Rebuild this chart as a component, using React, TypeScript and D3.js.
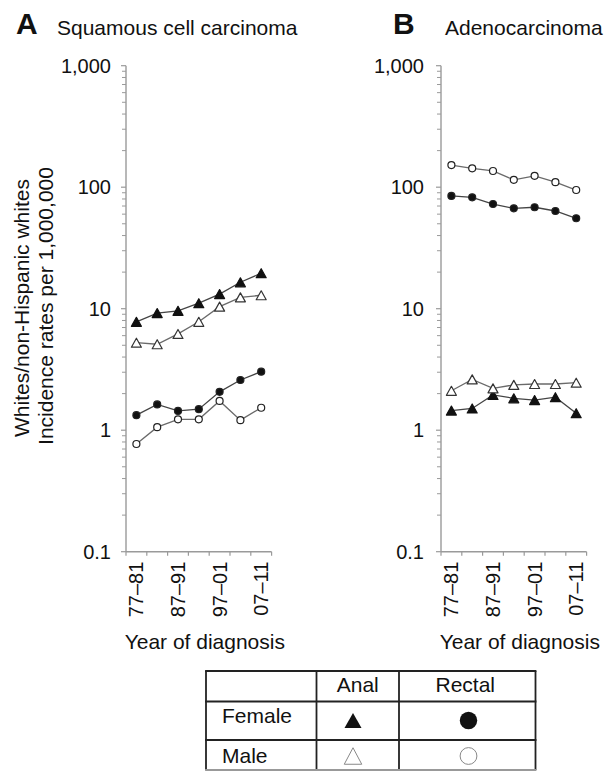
import React, { useEffect, useRef } from 'react';
import * as d3 from 'd3';

// periods of diagnosis (7 five-year bands)
const periods = ['77–81', '82–86', '87–91', '92–96', '97–01', '02–06', '07–11'];
const yTicks = [0.1, 1, 10, 100, 1000];
const yTickLabels = ['0.1', '1', '10', '100', '1,000'];

// A: squamous cell carcinoma
const sccFemaleAnal = [7.8, 9.2, 9.6, 11.1, 13.2, 16.5, 19.6];
const sccMaleAnal = [5.25, 5.1, 6.2, 7.8, 10.4, 12.4, 12.9];
const sccFemaleRectal = [1.33, 1.63, 1.44, 1.49, 2.07, 2.59, 3.03];
const sccMaleRectal = [0.77, 1.06, 1.23, 1.23, 1.74, 1.21, 1.53];

// B: adenocarcinoma
const adenoFemaleAnal = [1.45, 1.51, 1.95, 1.83, 1.77, 1.87, 1.38];
const adenoMaleAnal = [2.11, 2.62, 2.21, 2.36, 2.4, 2.4, 2.46];
const adenoFemaleRectal = [84.7, 82.6, 72.7, 67.0, 68.4, 63.7, 55.5];
const adenoMaleRectal = [152, 143, 136, 115, 124, 110, 94.8];

const legendRows = ['Female', 'Male'];
const legendCols = ['Anal', 'Rectal'];

const FONT = "'Liberation Sans', Arial, Helvetica, sans-serif";
const W = 605;
const H = 771;

type Kind = 'tri' | 'circle';

const triPath = (cx: number, cy: number, w: number, h: number) =>
  `M${cx},${cy - h / 2}L${cx + w / 2},${cy + h / 2}L${cx - w / 2},${cy + h / 2}Z`;

export default function App() {
  const svgRef = useRef<SVGSVGElement>(null);

  useEffect(() => {
    if (!svgRef.current) return;
    const svg = d3.select(svgRef.current);
    svg.selectAll('*').remove();

    svg.append('rect').attr('width', W).attr('height', H).attr('fill', '#fff');

    const y = d3.scaleLog().domain([0.1, 1000]).range([551.7, 65.7]);
    const axisColor = '#9a9a9a';

    const panels = [
      {
        letter: 'A', title: 'Squamous cell carcinoma', x0: 126, letterX: 16, titleX: 57, labelGap: 15,
        series: [
          { values: sccFemaleRectal, kind: 'circle' as Kind, filled: true },
          { values: sccMaleRectal, kind: 'circle' as Kind, filled: false },
          { values: sccMaleAnal, kind: 'tri' as Kind, filled: false },
          { values: sccFemaleAnal, kind: 'tri' as Kind, filled: true },
        ],
      },
      {
        letter: 'B', title: 'Adenocarcinoma', x0: 441, letterX: 393, titleX: 445, labelGap: 17,
        series: [
          { values: adenoFemaleRectal, kind: 'circle' as Kind, filled: true },
          { values: adenoMaleRectal, kind: 'circle' as Kind, filled: false },
          { values: adenoFemaleAnal, kind: 'tri' as Kind, filled: true },
          { values: adenoMaleAnal, kind: 'tri' as Kind, filled: false },
        ],
      },
    ];

    panels.forEach(p => {
      const x = d3.scaleBand<string>().domain(periods).range([p.x0, p.x0 + 145.6]).padding(0);
      const g = svg.append('g');

      // panel title
      g.append('text')
        .attr('x', p.letterX).attr('y', 34)
        .attr('font-family', FONT).attr('font-size', 30).attr('font-weight', 700)
        .attr('fill', '#111').text(p.letter);
      g.append('text')
        .attr('x', p.titleX).attr('y', 35)
        .attr('font-family', FONT).attr('font-size', 21)
        .attr('fill', '#111').text(p.title);

      // y axis with log minor ticks
      const [x0] = x.range();
      g.append('line')
        .attr('x1', x0).attr('x2', x0)
        .attr('y1', y(1000)).attr('y2', y(0.1))
        .attr('stroke', axisColor).attr('stroke-width', 1.4);
      const minor: number[] = [];
      [0.1, 1, 10, 100].forEach(d => {
        for (let k = 2; k <= 9; k++) minor.push(d * k);
      });
      g.selectAll('.minor').data(minor).enter().append('line')
        .attr('x1', x0 - 4).attr('x2', x0)
        .attr('y1', d => y(d)).attr('y2', d => y(d))
        .attr('stroke', axisColor).attr('stroke-width', 1);
      g.selectAll('.major').data(yTicks).enter().append('line')
        .attr('x1', x0 - 5).attr('x2', x0)
        .attr('y1', d => y(d)).attr('y2', d => y(d))
        .attr('stroke', axisColor).attr('stroke-width', 1.2);
      g.selectAll('.ylab').data(yTicks).enter().append('text')
        .attr('x', x0 - p.labelGap).attr('y', d => y(d) + 7)
        .attr('text-anchor', 'end')
        .attr('font-family', FONT).attr('font-size', 20).attr('fill', '#111')
        .text((d, i) => yTickLabels[i]);

      // x axis with band boundary ticks
      const xEnd = x0 + 145.6;
      const y0 = y(0.1);
      g.append('line')
        .attr('x1', x0).attr('x2', xEnd)
        .attr('y1', y0).attr('y2', y0)
        .attr('stroke', axisColor).attr('stroke-width', 1.4);
      const bounds = periods.map(d => x(d) as number).concat([xEnd]);
      g.selectAll('.xtick').data(bounds).enter().append('line')
        .attr('x1', d => d).attr('x2', d => d)
        .attr('y1', y0).attr('y2', y0 + 4)
        .attr('stroke', axisColor).attr('stroke-width', 1.2);
      const cx = (d: string) => (x(d) as number) + x.bandwidth() / 2;
      g.selectAll('.xlab').data(periods.filter((d, i) => i % 2 === 0)).enter().append('text')
        .attr('transform', d => `translate(${cx(d) + 7},${y0 + 10}) rotate(-90)`)
        .attr('text-anchor', 'end')
        .attr('font-family', FONT).attr('font-size', 20).attr('fill', '#111')
        .text(d => d);
      g.append('text')
        .attr('x', (x0 + xEnd) / 2 + 6).attr('y', 649)
        .attr('text-anchor', 'middle')
        .attr('font-family', FONT).attr('font-size', 21).attr('fill', '#111')
        .text('Year of diagnosis');

      // series
      p.series.forEach(s => {
        const pts = s.values.map((v, i) => ({ px: cx(periods[i]), py: y(v) }));
        const line = d3.line<{ px: number; py: number }>().x(d => d.px).y(d => d.py);
        g.append('path')
          .datum(pts)
          .attr('fill', 'none')
          .attr('stroke', s.filled ? '#444' : '#6a6a6a')
          .attr('stroke-width', 1.3)
          .attr('d', line);
        if (s.kind === 'circle') {
          g.selectAll(null).data(pts).enter().append('circle')
            .attr('cx', d => d.px).attr('cy', d => d.py).attr('r', 3.5)
            .attr('fill', s.filled ? '#111' : '#fff')
            .attr('stroke', '#222').attr('stroke-width', 1.2);
        } else {
          g.selectAll(null).data(pts).enter().append('path')
            .attr('d', d => triPath(d.px, d.py, 10, 9))
            .attr('fill', s.filled ? '#111' : '#fff')
            .attr('stroke', s.filled ? '#111' : '#333')
            .attr('stroke-width', 1.2)
            .attr('stroke-linejoin', 'round');
        }
      });
    });

    // shared y-axis title
    const yTitle = svg.append('g').attr('font-family', FONT).attr('font-size', 21).attr('fill', '#111');
    yTitle.append('text')
      .attr('transform', 'translate(29,308) rotate(-90)')
      .attr('text-anchor', 'middle')
      .text('Whites/non-Hispanic whites');
    yTitle.append('text')
      .attr('transform', 'translate(53,306) rotate(-90)')
      .attr('text-anchor', 'middle')
      .text('Incidence rates per 1,000,000');

    // legend table
    const colX = [206, 316.5, 399, 535.5];
    const rowY = [671, 701.5, 740, 770];
    const tg = svg.append('g');
    tg.selectAll('.vl').data(colX).enter().append('line')
      .attr('x1', d => d).attr('x2', d => d)
      .attr('y1', rowY[0]).attr('y2', rowY[3])
      .attr('stroke', '#222').attr('stroke-width', 1.8);
    tg.selectAll('.hl').data(rowY).enter().append('line')
      .attr('x1', colX[0] - 0.9).attr('x2', colX[3] + 0.9)
      .attr('y1', d => d).attr('y2', d => d)
      .attr('stroke', (d, i) => (i === 3 ? '#999' : '#222'))
      .attr('stroke-width', 1.8);
    tg.selectAll('.colh').data(legendCols).enter().append('text')
      .attr('x', (d, i) => (colX[i + 1] + colX[i + 2]) / 2 - (i === 1 ? 2 : 0))
      .attr('y', 692)
      .attr('text-anchor', 'middle')
      .attr('font-family', FONT).attr('font-size', 21).attr('fill', '#111')
      .text(d => d);
    tg.selectAll('.rowh').data(legendRows).enter().append('text')
      .attr('x', 222)
      .attr('y', (d, i) => (i === 0 ? 723 : 763))
      .attr('font-family', FONT).attr('font-size', 21).attr('fill', '#111')
      .text(d => d);
    // symbols
    const symRowY = [720.5, 756];
    const anCx = 353;
    const reCx = 468.5;
    tg.append('path').attr('d', triPath(anCx, symRowY[0], 17, 15)).attr('fill', '#111');
    tg.append('circle').attr('cx', reCx).attr('cy', symRowY[0]).attr('r', 8.7).attr('fill', '#111');
    tg.append('path').attr('d', triPath(anCx, symRowY[1], 17.5, 16.5))
      .attr('fill', 'none').attr('stroke', '#888').attr('stroke-width', 1);
    tg.append('circle').attr('cx', reCx).attr('cy', symRowY[1]).attr('r', 8.4)
      .attr('fill', 'none').attr('stroke', '#888').attr('stroke-width', 1);
  }, []);

  return (
    <div style={{ position: 'absolute', left: 0, top: 0, width: W, height: H }}>
      <svg ref={svgRef} width={W} height={H} viewBox={`0 0 ${W} ${H}`} style={{ display: 'block' }} />
    </div>
  );
}
